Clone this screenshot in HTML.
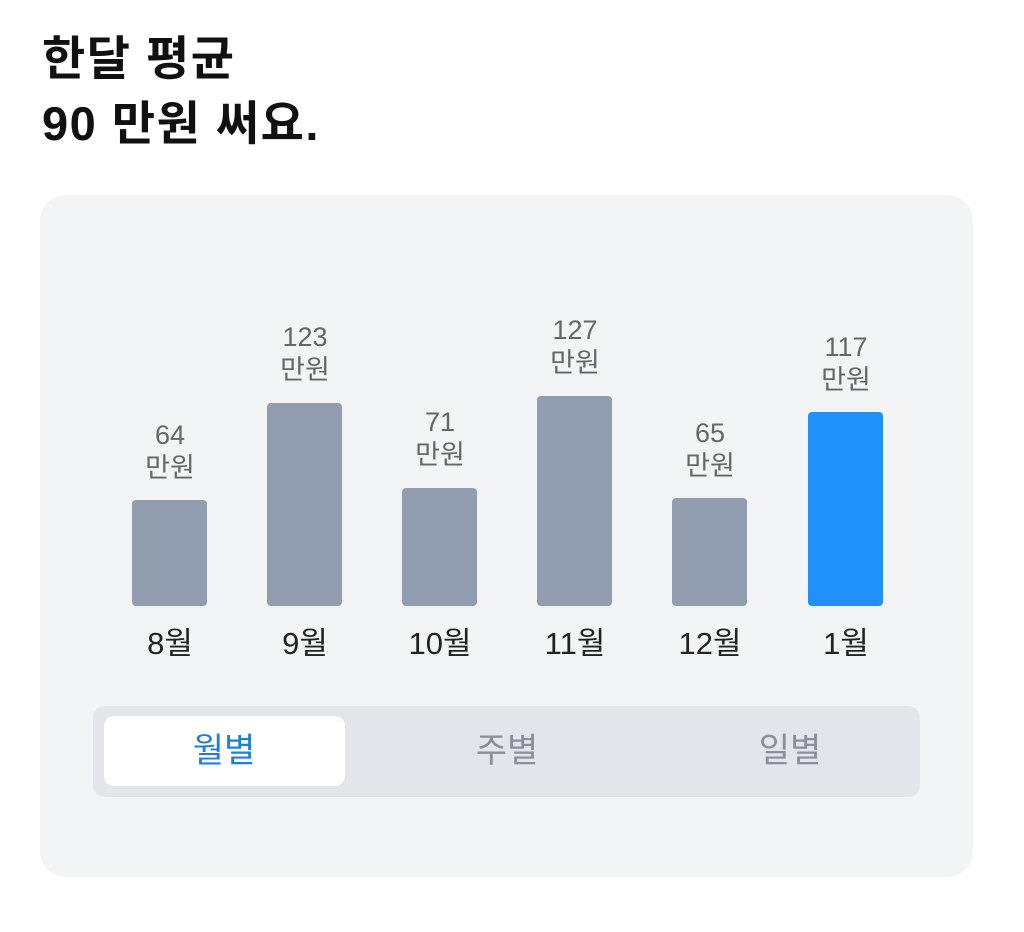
<!DOCTYPE html>
<html><head><meta charset="utf-8"><style>
body{margin:0;width:1024px;height:932px;background:#fff;font-family:"Liberation Sans","Noto Sans CJK KR",sans-serif;position:relative;overflow:hidden}
.t{position:absolute;left:42px;font-size:47px;font-weight:bold;color:#111;line-height:1;letter-spacing:1.5px}
.card{position:absolute;left:40px;top:195px;width:933px;height:682px;background:#f2f4f6;border-radius:26px}
.bar{position:absolute;width:75px;background:#939db0;border-radius:4px}
.v{position:absolute;width:120px;text-align:center;font-size:27px;color:#666;line-height:33px}
.m{position:absolute;top:625px;width:120px;text-align:center;font-size:31px;color:#222;line-height:38px}
.seg{position:absolute;left:93px;top:706px;width:827px;height:91px;background:#e2e5ea;border-radius:12px}
.sel{position:absolute;left:104px;top:716px;width:241px;height:70px;background:#fff;border-radius:10px}
.s{position:absolute;top:731px;width:240px;text-align:center;font-size:34px;color:#8b8f96;line-height:40px}
</style></head><body>
<div class="t" style="top:35px">한달 평균</div>
<div class="t" style="top:100px">90 만원 써요.</div>
<div class="card"></div>
<div class="bar" style="left:132px;top:500px;height:106px"></div>
<div class="bar" style="left:267px;top:403px;height:203px"></div>
<div class="bar" style="left:402px;top:488px;height:118px"></div>
<div class="bar" style="left:537px;top:396px;height:210px"></div>
<div class="bar" style="left:672px;top:498px;height:108px"></div>
<div class="bar" style="left:808px;top:412px;height:194px;background:#2191fa"></div>
<div class="v" style="left:110px;top:419px">64<br>만원</div>
<div class="v" style="left:245px;top:321px">123<br>만원</div>
<div class="v" style="left:380px;top:406px">71<br>만원</div>
<div class="v" style="left:515px;top:314px">127<br>만원</div>
<div class="v" style="left:650px;top:417px">65<br>만원</div>
<div class="v" style="left:786px;top:331px">117<br>만원</div>
<div class="m" style="left:110px">8월</div>
<div class="m" style="left:245px">9월</div>
<div class="m" style="left:380px">10월</div>
<div class="m" style="left:515px">11월</div>
<div class="m" style="left:650px">12월</div>
<div class="m" style="left:786px">1월</div>
<div class="seg"></div>
<div class="sel"></div>
<div class="s" style="left:104px;color:#1b7fe0">월별</div>
<div class="s" style="left:387px">주별</div>
<div class="s" style="left:670px">일별</div>
</body></html>
